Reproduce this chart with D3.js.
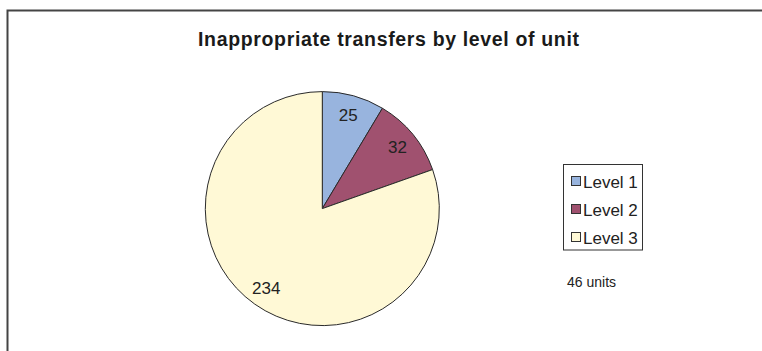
<!DOCTYPE html>
<html>
<head>
<meta charset="utf-8">
<script src="https://cdn.jsdelivr.net/npm/d3@7/dist/d3.min.js"></script>
<style>
    html, body { margin: 0; padding: 0; background: #fff; }
    svg { display: block; font-family: "Liberation Sans", Arial, sans-serif; }
</style>
</head>
<body>
<div id="chart"></div>
<script>
// Chart data
const levels = ['Level 1', 'Level 2', 'Level 3'];
const counts = [25, 32, 234];
const sliceColors = ['#98b4de', '#a0516f', '#fff9d6'];
const chartTitle = 'Inappropriate transfers by level of unit';
const noteText = '46 units';

const width = 762;
const height = 351;

const svg = d3.select('#chart')
    .append('svg')
    .attr('width', width)
    .attr('height', height);

// Frame (only top and left edges are visible in the crop)
svg.append('path')
    .attr('d', `M7.5,${height} L7.5,10.5 L${width},10.5`)
    .attr('fill', 'none')
    .attr('stroke', '#444')
    .attr('stroke-width', 2);

// Title
svg.append('text')
    .attr('x', 388.5)
    .attr('y', 46)
    .attr('text-anchor', 'middle')
    .attr('fill', '#1a1a1a')
    .style('font-size', '19.5px')
    .style('font-weight', 'bold')
    .attr('textLength', 381)
    .attr('lengthAdjust', 'spacing')
    .text(chartTitle);

// Pie
const cx = 322.3, cy = 208.6, radius = 117;
const color = d3.scaleOrdinal().domain(levels).range(sliceColors);

const pie = d3.pie()
    .value(d => d.value)
    .sort(null);

const data = levels.map((name, i) => ({ name, value: counts[i] }));

const arc = d3.arc().innerRadius(0).outerRadius(radius);
const labelArc = d3.arc().innerRadius(97).outerRadius(97);

const g = svg.append('g')
    .attr('transform', `translate(${cx},${cy})`);

g.selectAll('path')
    .data(pie(data))
    .enter().append('path')
    .attr('d', arc)
    .attr('fill', d => color(d.data.name))
    .attr('stroke', '#2a2a2a')
    .attr('stroke-width', 1)
    .attr('stroke-linejoin', 'round');

g.selectAll('text')
    .data(pie(data))
    .enter().append('text')
    .attr('transform', d => `translate(${labelArc.centroid(d)})`)
    .attr('dy', '0.36em')
    .attr('text-anchor', 'middle')
    .attr('fill', '#222')
    .style('font-size', '17px')
    .text(d => d.data.value);

// Legend
const legend = svg.append('g')
    .attr('transform', 'translate(563.5,164.5)');

legend.append('rect')
    .attr('width', 79)
    .attr('height', 85.5)
    .attr('fill', '#fff')
    .attr('stroke', '#333')
    .attr('stroke-width', 1);

const rowY = d3.scalePoint().domain(levels).range([17, 73]);

const item = legend.selectAll('g.item')
    .data(levels)
    .enter().append('g')
    .attr('class', 'item')
    .attr('transform', d => `translate(0,${rowY(d)})`);

item.append('rect')
    .attr('x', 8)
    .attr('y', -5)
    .attr('width', 9)
    .attr('height', 9)
    .attr('fill', d => color(d))
    .attr('stroke', '#333')
    .attr('stroke-width', 1);

item.append('text')
    .attr('x', 19.5)
    .attr('y', 0)
    .attr('dy', '0.36em')
    .attr('fill', '#222')
    .style('font-size', '17px')
    .text(d => d);

// Note
svg.append('text')
    .attr('x', 567)
    .attr('y', 287)
    .attr('fill', '#222')
    .style('font-size', '14px')
    .text(noteText);
</script>
</body>
</html>
